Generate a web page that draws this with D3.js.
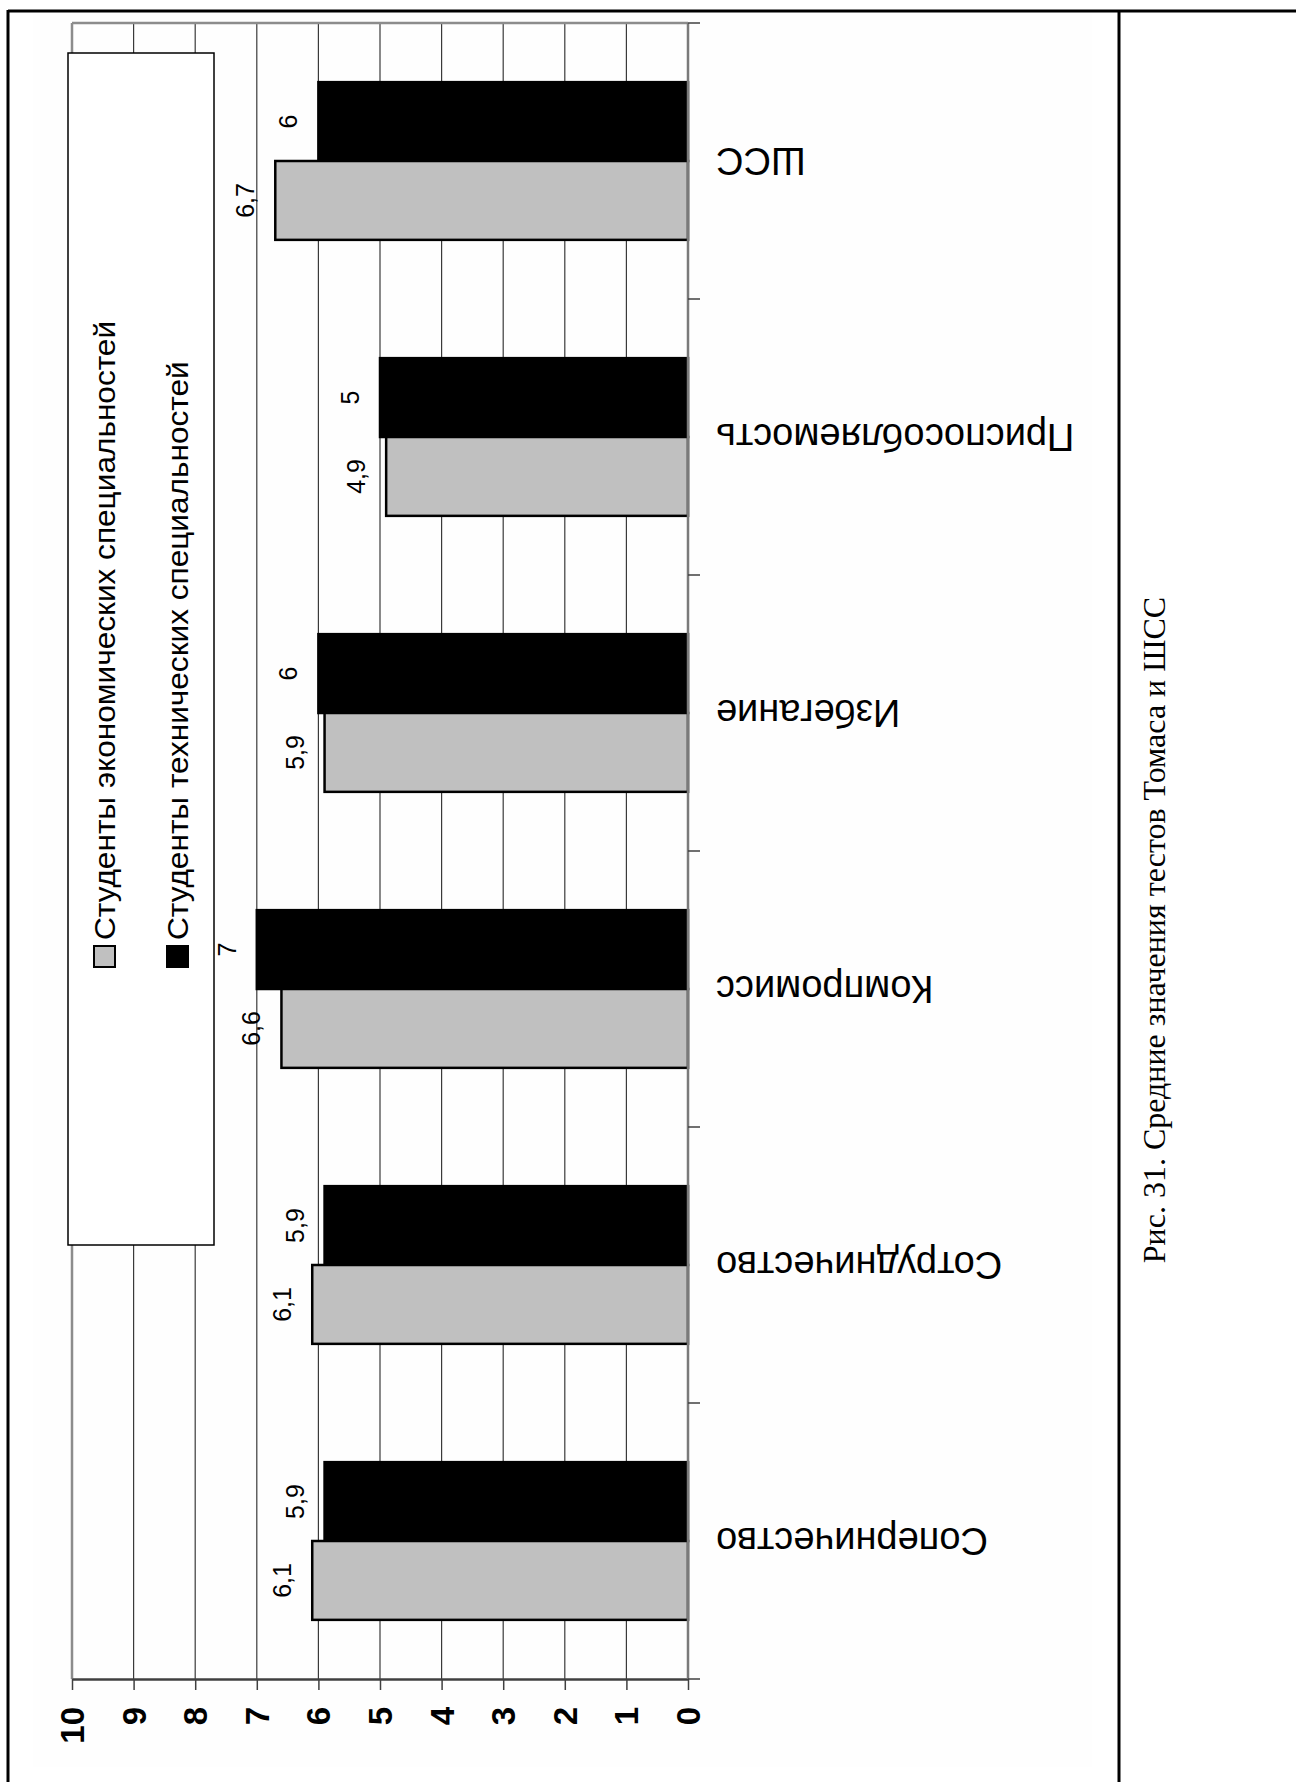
<!DOCTYPE html>
<html><head><meta charset="utf-8">
<script src="https://cdn.jsdelivr.net/npm/d3@7"></script>
<style>body{margin:0;background:#fff}</style>
</head><body><svg id="c" width="1296" height="1782"></svg>
<script>
const categories = ["Соперничество","Сотрудничество","Компромисс","Избегание","Приспособляемость","ШСС"];
const seriesNames = ["Студенты экономических специальностей","Студенты технических специальностей"];
const econValues = [6.1, 6.1, 6.6, 5.9, 4.9, 6.7];
const techValues = [5.9, 5.9, 7, 6, 5, 6];
const valueTicks = [0,1,2,3,4,5,6,7,8,9,10];
const caption = "Рис. 31. Средние значения тестов Томаса и ШСС";

const svg = d3.select("#c");
const SANS = "'Liberation Sans', Arial, sans-serif";
const SERIF = "'Liberation Serif', 'Times New Roman', serif";
const L = 72, R = 688, T = 23, B = 1679;

// chart area background
svg.append("rect").attr("x",33).attr("y",14).attr("width",1059).attr("height",1753).attr("fill","#fefefe");

const x = d3.scaleLinear().domain([0,10]).range([R, L]);
const y = d3.scaleBand().domain(categories).range([B, T]);
const sub = d3.scaleBand().domain(["tech","econ"]).range([0, y.bandwidth()]).paddingOuter(0.75).paddingInner(0);

// gridlines
svg.append("g").selectAll("line").data(valueTicks.filter(t => t > 0 && t < 10)).join("line")
  .attr("x1", d => x(d)).attr("x2", d => x(d)).attr("y1", T).attr("y2", B)
  .attr("stroke", "#3a3a3a").attr("stroke-width", 1.2);
// plot border (left & top)
svg.append("line").attr("x1", x(10)).attr("x2", x(10)).attr("y1", T).attr("y2", B).attr("stroke","#8c8c8c").attr("stroke-width",2.5);
svg.append("line").attr("x1", x(10)).attr("x2", R).attr("y1", T).attr("y2", T).attr("stroke","#8c8c8c").attr("stroke-width",2.5);

// bars
const rows = categories.map((c,i) => ({cat:c, econ:econValues[i], tech:techValues[i]}));
const barData = [];
rows.forEach(r => { barData.push({cat:r.cat, key:"tech", v:r.tech}); barData.push({cat:r.cat, key:"econ", v:r.econ}); });
const colors = {econ:"#c0c0c0", tech:"#000000"};
svg.append("g").selectAll("rect").data(barData).join("rect")
  .attr("x", d => x(d.v)).attr("width", d => x(0) - x(d.v))
  .attr("y", d => y(d.cat) + sub(d.key)).attr("height", sub.bandwidth())
  .attr("fill", d => colors[d.key]).attr("stroke", "#000").attr("stroke-width", 2.5);

// value axis (bottom)
const ax = svg.append("g").attr("transform", `translate(0,${B})`)
  .call(d3.axisBottom(x).tickValues(valueTicks).tickSize(11).tickSizeOuter(0).tickFormat(d3.format("d")));
ax.select(".domain").attr("stroke","#404040").attr("stroke-width",2.5);
ax.selectAll(".tick line").attr("stroke","#404040").attr("stroke-width",1.5);
ax.selectAll(".tick text").attr("x", null).attr("y", null).attr("dy", null)
  .attr("transform","translate(0,28) rotate(-90)").attr("text-anchor","end")
  .attr("dominant-baseline","central").attr("font-family",SANS).attr("font-size",33)
  .attr("font-weight","bold").attr("fill","#000");

// category axis (right side)
svg.append("line").attr("x1",R).attr("x2",R).attr("y1",T).attr("y2",B).attr("stroke","#7a7a7a").attr("stroke-width",2.5);
const bounds = categories.map(c => y(c)).concat([y(categories[0]) + y.bandwidth()]);
svg.append("g").selectAll("line").data(bounds).join("line")
  .attr("x1",R).attr("x2",R+12).attr("y1",d=>d).attr("y2",d=>d).attr("stroke","#404040").attr("stroke-width",1.5);
svg.append("g").selectAll("text").data(categories).join("text")
  .attr("x", R+28).attr("y", d => y(d) + y.bandwidth()/2)
  .attr("transform", d => `rotate(180,${R+28},${y(d) + y.bandwidth()/2})`)
  .attr("text-anchor","end").attr("dominant-baseline","central")
  .attr("font-family",SANS).attr("font-size",38).attr("fill","#000").text(d => d);

// data labels
svg.append("g").selectAll("text").data(barData).join("text")
  .each(function(d){
    const cx = x(d.v) - 30, cy = y(d.cat) + sub(d.key) + sub.bandwidth()/2;
    d3.select(this).attr("x",cx).attr("y",cy).attr("transform",`rotate(-90,${cx},${cy})`);
  })
  .attr("text-anchor","middle").attr("dominant-baseline","central")
  .attr("font-family",SANS).attr("font-size",25).attr("fill","#000")
  .text(d => String(d.v).replace(".", ","));

// legend
const lg = svg.append("g");
lg.append("rect").attr("x",68).attr("y",53).attr("width",146).attr("height",1192).attr("fill","#fff").attr("stroke","#000").attr("stroke-width",1.5);
const legendKeys = ["econ","tech"];
legendKeys.forEach((k,i) => {
  const sx = 94 + i*73;
  lg.append("rect").attr("x",sx).attr("y",946).attr("width",21).attr("height",21)
    .attr("fill",colors[k]).attr("stroke","#000").attr("stroke-width",2);
  const tx = sx + 21, ty = 940;
  const t = lg.append("text").attr("x",tx).attr("y",ty).attr("transform",`rotate(-90,${tx},${ty})`)
    .attr("text-anchor","start").attr("font-family",SANS).attr("font-size",29).attr("fill","#000")
    .text(seriesNames[i]);
  const len = t.node().getComputedTextLength();
  t.attr("textLength", len*1.09).attr("lengthAdjust","spacingAndGlyphs");
});

// frame
svg.append("line").attr("x1",8).attr("x2",1296).attr("y1",11).attr("y2",11).attr("stroke","#000").attr("stroke-width",3);
svg.append("line").attr("x1",8).attr("x2",8).attr("y1",10).attr("y2",1782).attr("stroke","#000").attr("stroke-width",3);
svg.append("line").attr("x1",1119).attr("x2",1119).attr("y1",10).attr("y2",1782).attr("stroke","#000").attr("stroke-width",3);

// caption
svg.append("text").attr("x",1165).attr("y",930).attr("transform","rotate(-90,1165,930)")
  .attr("text-anchor","middle").attr("font-family",SERIF).attr("font-size",32).attr("fill","#000").text(caption);
</script></body></html>
